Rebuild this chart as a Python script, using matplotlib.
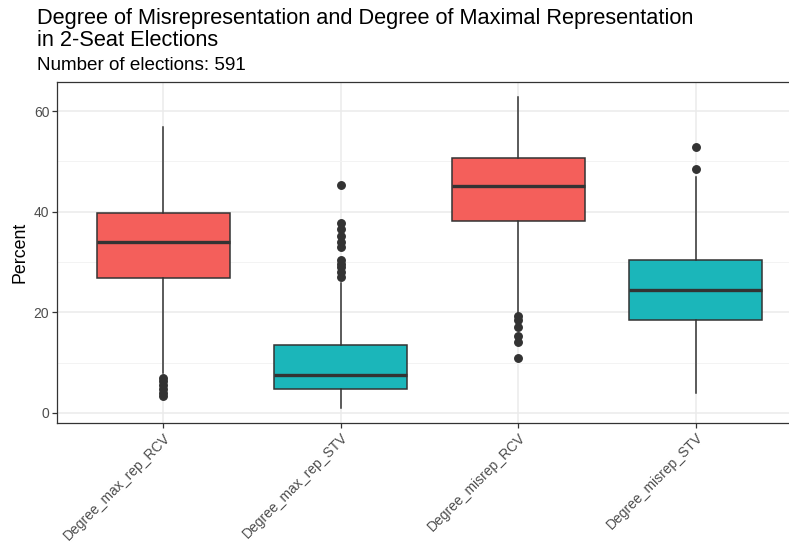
import matplotlib
matplotlib.use("Agg")
import matplotlib.pyplot as plt
from matplotlib.ticker import MultipleLocator

plt.rcParams['font.family'] = ['Liberation Sans', 'DejaVu Sans']

categories = ["Degree_max_rep_RCV", "Degree_max_rep_STV", "Degree_misrep_RCV", "Degree_misrep_STV"]
q1 = [26.8, 4.8, 38.1, 18.5]
median = [34.0, 7.6, 45.2, 24.4]
q3 = [39.7, 13.5, 50.7, 30.4]
whis_lo = [7.9, 1.0, 19.9, 4.0]
whis_hi = [56.8, 25.8, 62.8, 46.9]
fliers = [
    [7.0, 6.4, 5.6, 4.8, 4.0, 3.4],
    [45.3, 37.7, 36.6, 35.2, 34.0, 33.0, 30.4, 29.6, 29.0, 28.0, 27.0],
    [19.2, 18.5, 17.1, 15.2, 14.1, 10.9],
    [52.9, 48.5],
]
fill_colors = ["#F45F5B", "#1BB6BA", "#F45F5B", "#1BB6BA"]

fig = plt.figure(figsize=(7.89, 5.43), dpi=100)
# panel extends slightly past the right edge of the picture, as in the reference
ax = fig.add_axes([57/789, 1-423/543, (802-57)/789, (423-82)/543])

stats = []
for i, c in enumerate(categories):
    stats.append(dict(label=c, q1=q1[i], med=median[i], q3=q3[i],
                      whislo=whis_lo[i], whishi=whis_hi[i], fliers=fliers[i]))

pos = list(range(1, len(categories) + 1))
bp = ax.bxp(stats, positions=pos, widths=0.75, patch_artist=True, showcaps=False,
            boxprops=dict(edgecolor="#333333", linewidth=1.1),
            whiskerprops=dict(color="#333333", linewidth=1.1),
            medianprops=dict(color="#333333", linewidth=2.4),
            flierprops=dict(marker='o', markerfacecolor="#333333", markeredgecolor="#333333",
                            markersize=5.4, linestyle='none'),
            zorder=3)
for patch, col in zip(bp['boxes'], fill_colors):
    patch.set_facecolor(col)

ax.set_xlim(0.4, 4.6)
ax.set_ylim(-2.0, 65.8)
ax.yaxis.set_major_locator(MultipleLocator(20))
ax.yaxis.set_minor_locator(MultipleLocator(10))
ax.set_xticks(pos)
ax.set_xticklabels(categories, rotation=45, ha='right', va='top', rotation_mode='anchor',
                   fontsize=10, color="#4D4D4D")
ax.tick_params(axis='x', length=3.5, color="#333333", width=0.9, pad=2)
ax.tick_params(axis='y', which='major', length=3.5, color="#333333", width=0.9,
               labelsize=10, labelcolor="#4D4D4D", pad=2)
ax.tick_params(axis='y', which='minor', length=0)

ax.grid(True, which='major', color="#EBEBEB", linewidth=1.1, zorder=0)
ax.grid(True, which='minor', axis='y', color="#F3F3F3", linewidth=0.7, zorder=0)
ax.set_axisbelow(True)
for s in ax.spines.values():
    s.set_color("#333333")
    s.set_linewidth(0.9)

ax.set_ylabel("Percent", fontsize=12.8, color="black", labelpad=4)

fig.text(37/789, 1-24/543, "Degree of Misrepresentation and Degree of Maximal Representation",
         fontsize=15.7, va='baseline', ha='left')
fig.text(37/789, 1-46/543, "in 2-Seat Elections", fontsize=15.7, va='baseline', ha='left')
fig.text(37/789, 1-70/543, "Number of elections: 591", fontsize=13.6, va='baseline', ha='left')

fig.savefig("out.png", dpi=100)
